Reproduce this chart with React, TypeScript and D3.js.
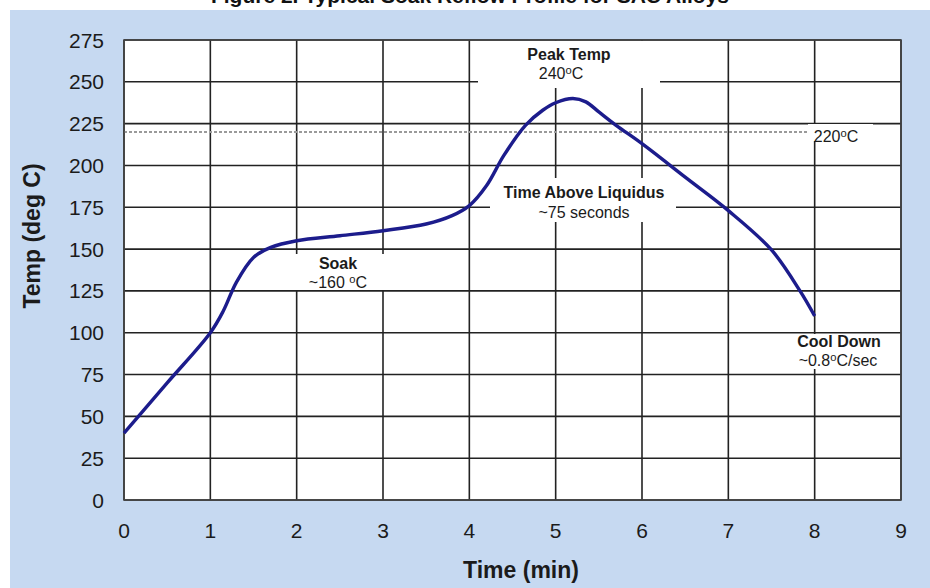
import * as d3 from "d3";

// reflow profile (time in min, temp in deg C)
const times = [0, 0.5, 1, 1.15, 1.3, 1.5, 1.7, 2, 2.5, 3, 3.5, 3.8, 4, 4.2, 4.4, 4.65, 4.85, 5, 5.2, 5.35, 5.5, 5.7, 6, 6.5, 7, 7.5, 7.83, 8];
const temps = [40, 70, 100, 113, 130, 145, 151, 155, 158, 161, 165, 170, 176, 188, 206, 224, 233, 237.5, 240, 238, 232, 224, 213, 193, 173, 149.5, 125, 110];
const xTicks = [0, 1, 2, 3, 4, 5, 6, 7, 8, 9];
const yTicks = [0, 25, 50, 75, 100, 125, 150, 175, 200, 225, 250, 275];
const liquidus = 220;

const W = 930, H = 588;
const left = 124, right = 901, top = 40, bottom = 500;

const x = d3.scaleLinear().domain([0, 9]).range([left, right]);
const y = d3.scaleLinear().domain([0, 275]).range([bottom, top]);

const line = d3.line<number>()
  .x((_, i) => x(times[i]))
  .y((d) => y(d))
  .curve(d3.curveCatmullRom.alpha(0.5));

const ink = "#1b1b1b";
const font = "Liberation Sans, Arial, sans-serif";

// white boxes behind the annotations (they mask the grid)
const boxes = [
  { x0: 478, x1: 660, y0: 41, y1: 88 },
  { x0: 490, x1: 676, y0: 178, y1: 222 },
  { x0: 288, x1: 393, y0: 254, y1: 290 },
  { x0: 808, x1: 873, y0: 124, y1: 141 },
  { x0: 793, x1: 883, y0: 334, y1: 369 },
];

function Deg({ pre, post }: { pre: string; post: string }) {
  return (
    <>
      {pre}
      <tspan fontSize="0.7em" dy={-5}>o</tspan>
      <tspan dy={5}>{post}</tspan>
    </>
  );
}

export default function App() {
  return (
    <svg width={W} height={H} style={{ position: "absolute", left: 0, top: 0 }} fontFamily={font}>
      <rect x={0} y={0} width={W} height={H} fill="#ffffff" />
      <text x={470} y={3} textAnchor="middle" fontSize={21} fontWeight="bold" fill="#111">
        Figure 2. Typical Soak Reflow Profile for SAC Alloys
      </text>
      <rect x={10} y={10} width={W - 10} height={H - 10} fill="#c6d9f1" />
      <rect x={left} y={top} width={right - left} height={bottom - top} fill="#fff" />

      {/* grid */}
      {yTicks.map((t) => (
        <line key={"h" + t} x1={left} x2={right} y1={y(t)} y2={y(t)} stroke="#222" strokeWidth={1.6} />
      ))}
      {xTicks.map((t) => (
        <line key={"v" + t} x1={x(t)} x2={x(t)} y1={top} y2={bottom} stroke="#222" strokeWidth={1.6} />
      ))}

      {boxes.map((b, i) => (
        <rect key={i} x={b.x0} y={b.y0} width={b.x1 - b.x0} height={b.y1 - b.y0} fill="#fff" />
      ))}

      <line x1={left} x2={808} y1={y(liquidus)} y2={y(liquidus)} stroke="#9a9a9a" strokeWidth={2} strokeDasharray="3,2" />

      <rect x={left} y={top} width={right - left} height={bottom - top} fill="none" stroke="#444" strokeWidth={1.6} />

      <path d={line(temps) ?? ""} fill="none" stroke="#1c1c8c" strokeWidth={3.4} strokeLinejoin="round" />

      {/* tick labels */}
      {yTicks.map((t) => (
        <text key={"yl" + t} x={104} y={y(t)} dy="0.36em" textAnchor="end" fontSize={21} fill={ink}>{t}</text>
      ))}
      {xTicks.map((t) => (
        <text key={"xl" + t} x={x(t)} y={538} textAnchor="middle" fontSize={21} fill={ink}>{t}</text>
      ))}

      <text x={521} y={578} textAnchor="middle" fontSize={23} fontWeight="bold" fill={ink}>Time (min)</text>
      <text transform={`translate(40,236) rotate(-90)`} textAnchor="middle" fontSize={23} fontWeight="bold" fill={ink}>Temp (deg C)</text>

      {/* annotations */}
      <g fontSize={16} fill={ink} textAnchor="middle">
        <text x={569} y={60} fontWeight="bold">Peak Temp</text>
        <text x={561} y={79}><Deg pre="240" post="C" /></text>
        <text x={584} y={198} fontWeight="bold">Time Above Liquidus</text>
        <text x={584} y={218}>~75 seconds</text>
        <text x={338} y={269} fontWeight="bold">Soak</text>
        <text x={338} y={288}><Deg pre="~160 " post="C" /></text>
        <text x={836} y={142}><Deg pre="220" post="C" /></text>
        <text x={839} y={347} fontWeight="bold">Cool Down</text>
        <text x={838} y={366}><Deg pre="~0.8" post="C/sec" /></text>
      </g>
    </svg>
  );
}
